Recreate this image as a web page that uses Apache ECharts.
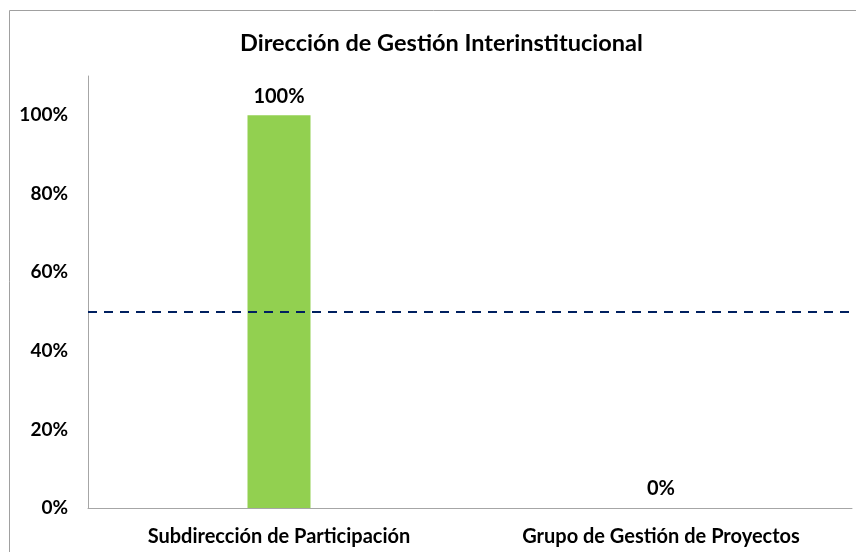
<!DOCTYPE html>
<html>
<head>
<meta charset="utf-8">
<script src="https://cdn.jsdelivr.net/npm/echarts@6/dist/echarts.min.js"></script>
<style>
  html, body { margin: 0; padding: 0; background: #fff; }
  #chart { width: 856px; height: 552px; }
</style>
</head>
<body>
<div id="chart"></div>
<script>
const categories = ['Subdirección de Participación', 'Grupo de Gestión de Proyectos'];
const values = [1, 0];
const meta = 0.5;

const chart = echarts.init(document.getElementById('chart'));
const fontFamily = 'Lato, "Open Sans", sans-serif';

const option = {
  animation: false,
  textStyle: { fontFamily: fontFamily },
  title: {
    text: 'Dirección de Gestión Interinstitucional',
    left: 235,
    top: 26,
    textStyle: { fontSize: 23.5, fontWeight: 'bold', color: '#000', fontFamily: fontFamily }
  },
  graphic: [{
    type: 'rect',
    shape: { x: 9.5, y: 10.5, width: 900, height: 600 },
    style: { fill: 'none', stroke: '#a0a0a0', lineWidth: 1 },
    silent: true
  }],
  grid: { left: 88, right: 4, top: 76, bottom: 44 },
  xAxis: {
    type: 'category',
    data: categories,
    axisLine: { lineStyle: { color: '#a6a6a6' } },
    axisTick: { show: false },
    axisLabel: {
      color: '#000', fontSize: 20, fontWeight: 'bold', margin: 19, fontFamily: fontFamily
    }
  },
  yAxis: {
    type: 'value',
    min: 0,
    max: 1.1,
    interval: 0.2,
    axisLine: { show: true, lineStyle: { color: '#a6a6a6' } },
    axisTick: { show: false },
    splitLine: { show: false },
    axisLabel: {
      color: '#000', fontSize: 19, fontWeight: 'bold', margin: 20, fontFamily: fontFamily,
      showMaxLabel: false,
      formatter: v => {
        const p = Math.round(v * 100);
        return p % 20 === 0 && p <= 100 ? p + '%' : '';
      }
    }
  },
  series: [{
    type: 'bar',
    data: values,
    barWidth: 63,
    itemStyle: { color: '#92d050' },
    label: {
      show: true,
      position: 'top',
      distance: 9,
      color: '#000',
      fontSize: 20,
      fontWeight: 'bold',
      fontFamily: fontFamily,
      formatter: p => Math.round(p.value * 100) + '%'
    },
    markLine: {
      silent: true,
      symbol: 'none',
      label: { show: false },
      lineStyle: { color: '#002060', type: [9, 7], width: 2.2 },
      data: [{ yAxis: meta }]
    }
  }]
};

chart.setOption(option);
</script>
</body>
</html>
